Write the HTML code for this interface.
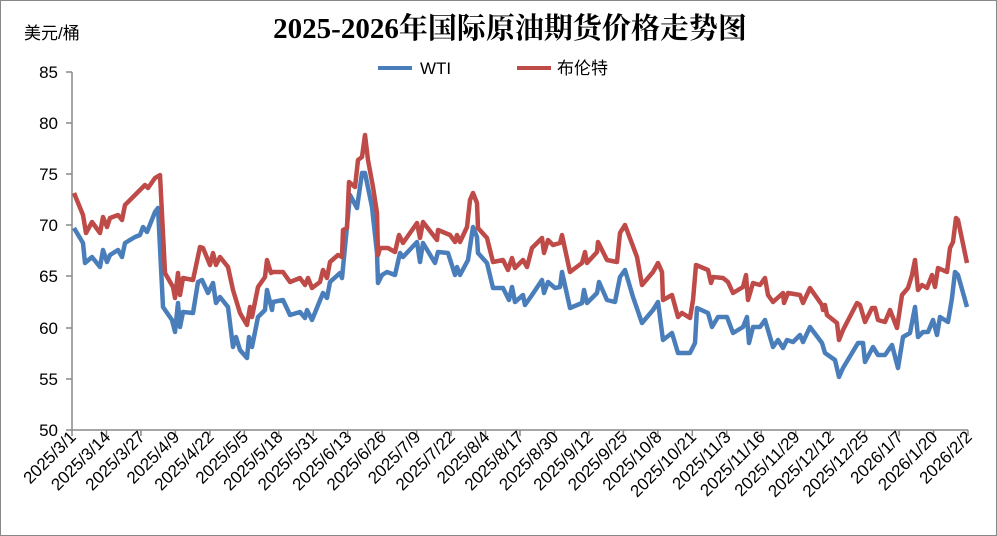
<!DOCTYPE html>
<html><head><meta charset="utf-8"><style>
body{margin:0;background:#fff}
svg{display:block}
text{font-family:"Liberation Sans","Noto Sans CJK SC",sans-serif;fill:#000}
</style></head><body>
<svg width="997" height="536" viewBox="0 0 997 536" xmlns="http://www.w3.org/2000/svg">
<rect x="0.5" y="0.5" width="996" height="535" fill="#fff" stroke="#888"/>
<text x="510" y="38" text-anchor="middle" style="font-family:'Liberation Serif','Noto Serif CJK SC',serif;font-size:29px;font-weight:bold">2025-2026年国际原油期货价格走势图</text>
<text x="24" y="39" style="font-size:17px">美元/桶</text>
<line x1="378" y1="68" x2="412" y2="68" stroke="#4a7ebb" stroke-width="4"/>
<text x="420" y="74" style="font-size:17px">WTI</text>
<line x1="517" y1="68" x2="551" y2="68" stroke="#be4b48" stroke-width="4"/>
<text x="557" y="74" style="font-size:17px">布伦特</text>
<g style="font-size:17px" text-anchor="end">
<text x="58" y="78">85</text><text x="58" y="129">80</text><text x="58" y="180">75</text><text x="58" y="231">70</text><text x="58" y="282">65</text><text x="58" y="334">60</text><text x="58" y="385">55</text><text x="58" y="436">50</text>
</g>
<g stroke="#888" stroke-width="1.5">
<line x1="72" y1="72" x2="72" y2="430"/>
<line x1="72" y1="430" x2="968" y2="430"/>
<line x1="66" y1="72" x2="72" y2="72"/><line x1="66" y1="123" x2="72" y2="123"/><line x1="66" y1="174" x2="72" y2="174"/><line x1="66" y1="225" x2="72" y2="225"/><line x1="66" y1="276" x2="72" y2="276"/><line x1="66" y1="328" x2="72" y2="328"/><line x1="66" y1="379" x2="72" y2="379"/><line x1="66" y1="430" x2="72" y2="430"/>
</g>
<g id="xt" style="font-size:17px" text-anchor="end"></g>
<polyline fill="none" stroke="#4a7ebb" stroke-width="4.5" stroke-linejoin="round" points="74,228 83,243 85,263 92,257 100,267 103,250 107,262 110,255 118,250 122,257 125,243 135,237 140,235 143,227 147,232 155,212 158,208 163,307 172,320 175,332 178,303 180,327 183,312 193,313 198,282 202,280 208,293 213,283 216,303 220,297 228,307 233,347 236,337 240,350 247,358 249,337 252,347 258,317 265,310 267,290 272,310 273,302 283,300 290,315 300,312 305,318 307,310 312,320 323,293 327,298 330,282 340,273 342,278 345,247 350,195 357,208 362,173 365,173 372,207 377,253 378,283 382,275 387,272 395,275 400,253 403,257 417,242 420,262 423,243 435,263 438,252 448,253 455,275 457,267 460,275 468,260 473,227 477,237 478,253 487,263 493,288 503,288 509,300 512,287 515,302 523,295 525,305 532,295 542,280 544,293 548,282 555,288 560,287 562,272 570,308 582,303 584,290 587,303 597,293 599,282 607,300 615,302 620,277 625,270 633,297 642,323 653,310 658,302 663,340 672,333 678,353 690,353 695,343 697,308 708,313 712,327 718,317 727,317 733,333 743,327 747,317 749,343 753,327 760,327 765,320 773,347 778,340 783,348 787,340 793,342 800,335 803,342 810,327 822,343 825,353 835,360 839,377 843,368 858,343 863,343 865,362 873,347 878,355 885,355 892,345 898,368 903,337 910,333 915,307 918,337 923,332 928,332 933,320 937,335 940,317 948,322 952,298 955,272 958,275 967,307"/>
<polyline fill="none" stroke="#be4b48" stroke-width="4.5" stroke-linejoin="round" points="74,193 83,215 86,233 92,222 100,233 103,217 107,227 110,218 118,215 122,220 125,205 135,195 140,190 145,185 148,188 155,178 160,175 165,273 173,287 175,298 178,273 180,295 183,278 193,280 200,247 203,248 210,265 213,253 216,265 220,257 228,267 233,290 240,313 247,325 250,307 252,317 258,287 265,277 267,260 271,273 273,272 283,272 290,282 300,278 305,285 308,278 312,288 320,282 323,270 327,278 330,262 338,255 342,257 343,230 347,228 349,182 355,187 358,160 362,157 365,135 368,160 373,187 377,213 378,255 380,248 388,248 395,252 399,235 403,243 417,223 420,238 423,222 437,240 438,230 450,235 455,242 457,235 460,242 467,227 470,200 473,193 477,203 478,228 487,238 493,262 503,260 508,270 512,258 515,268 523,260 527,267 532,248 542,238 544,253 548,240 553,245 560,243 562,235 570,272 582,263 585,252 587,263 597,252 598,242 607,260 617,262 620,233 625,225 637,257 642,285 653,272 658,263 662,272 663,300 672,295 678,317 682,313 690,318 693,300 696,265 708,270 711,283 713,277 723,278 728,282 733,293 743,287 746,275 748,300 753,283 760,285 765,278 768,295 773,302 783,293 784,303 788,293 800,295 803,303 810,288 822,305 823,310 825,305 827,315 837,323 839,340 843,330 857,303 860,305 865,322 872,308 875,308 878,320 885,322 890,310 897,328 902,295 908,288 912,275 915,260 918,290 922,285 927,288 932,275 935,287 938,268 947,272 950,248 953,242 956,218 958,220 967,263"/>
</svg>
<script>
var labels=["2025/3/1","2025/3/14","2025/3/27","2025/4/9","2025/4/22","2025/5/5","2025/5/18","2025/5/31","2025/6/13","2025/6/26","2025/7/9","2025/7/22","2025/8/4","2025/8/17","2025/8/30","2025/9/12","2025/9/25","2025/10/8","2025/10/21","2025/11/3","2025/11/16","2025/11/29","2025/12/12","2025/12/25","2026/1/7","2026/1/20","2026/2/2"];
var g=document.getElementById('xt'),s="";
for(var i=0;i<labels.length;i++){var x=72+i*896/26;
s+='<line x1="'+x+'" y1="430" x2="'+x+'" y2="436" stroke="#888" stroke-width="1.5"/>';
s+='<text transform="translate('+(x+5)+',438) rotate(-45)">'+labels[i]+'</text>';}
g.innerHTML=s;
</script>
</body></html>
